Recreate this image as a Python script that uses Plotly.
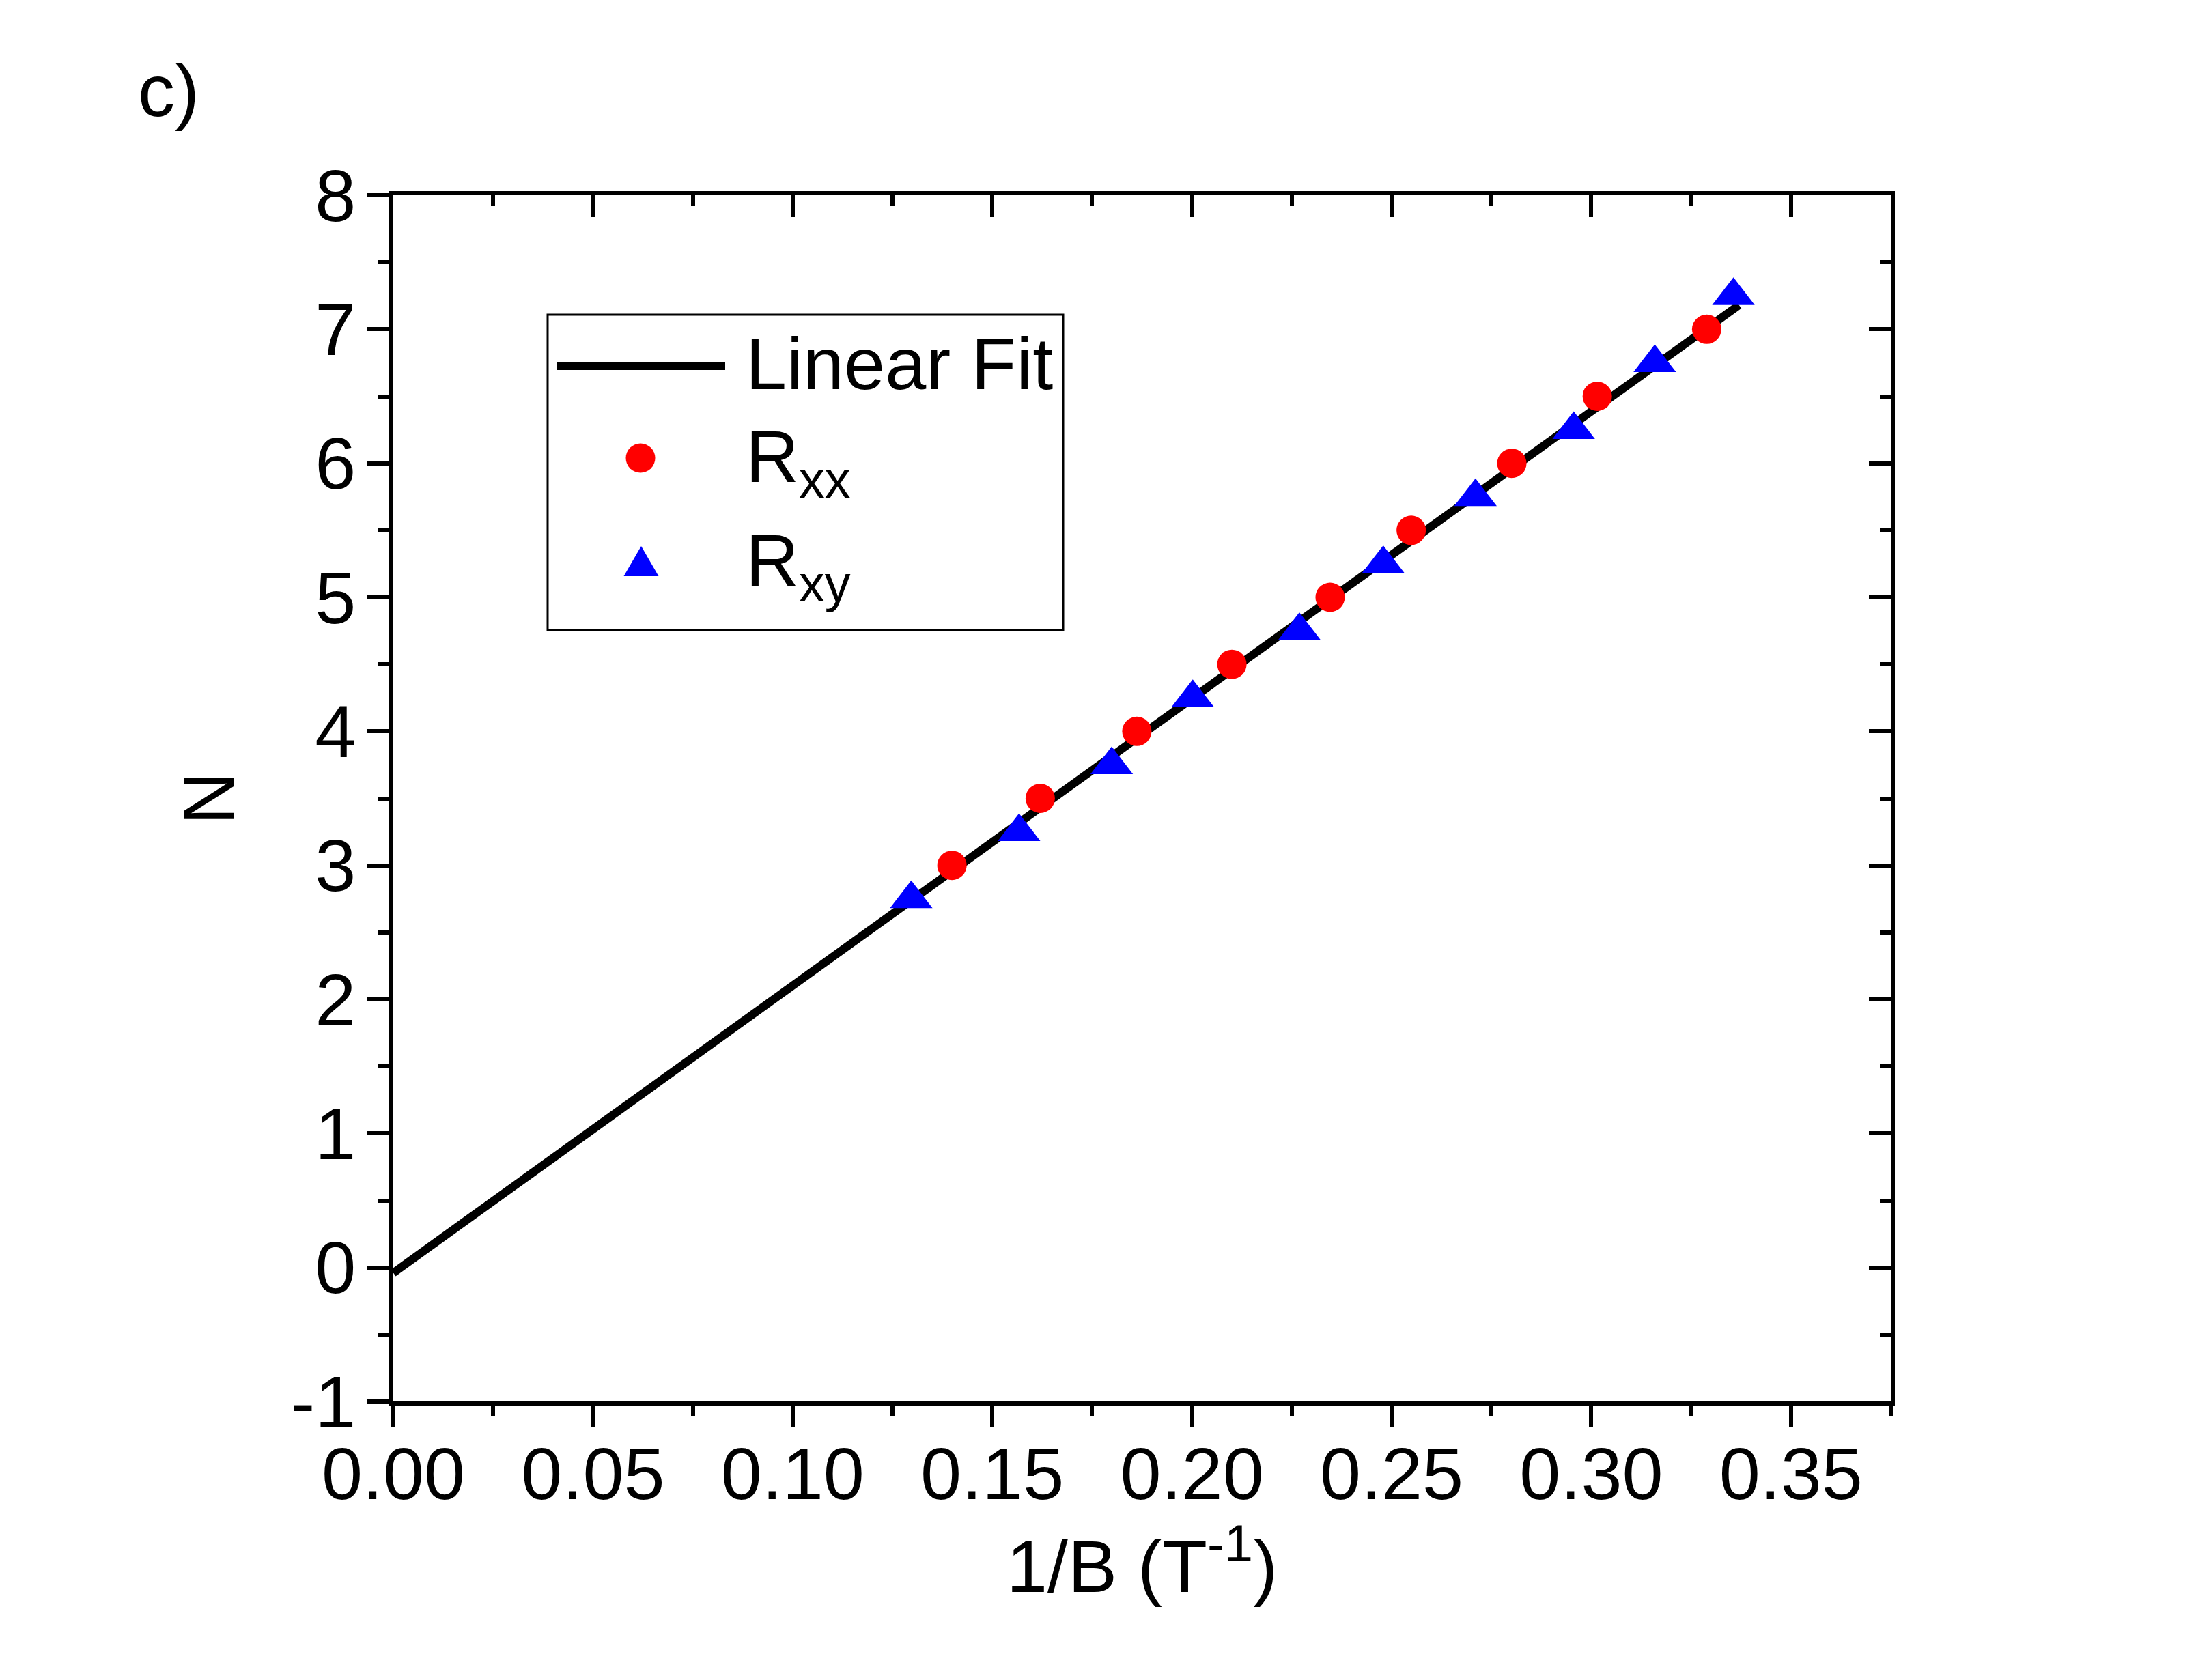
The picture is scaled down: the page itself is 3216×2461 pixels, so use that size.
import plotly.graph_objects as go

# ---------------- data ----------------
fit_x = [0.0, 0.337]
fit_n = [-0.04, 7.18]

rxx_x = [0.1399, 0.1620, 0.1862, 0.2100, 0.2346, 0.2549, 0.2801, 0.3015, 0.3289]
rxx_n = [3.0, 3.5, 4.0, 4.5, 5.0, 5.5, 6.0, 6.5, 7.0]

rxy_x = [0.1297, 0.1567, 0.1799, 0.2002, 0.2269, 0.2479, 0.2710, 0.2956, 0.3159, 0.3356]
rxy_n = [2.75, 3.25, 3.75, 4.25, 4.75, 5.25, 5.75, 6.25, 6.75, 7.25]

x_range = [0.0, 0.375]
y_range = [-1.0, 8.0]
x_ticks = [0.00, 0.05, 0.10, 0.15, 0.20, 0.25, 0.30, 0.35]
y_ticks = [-1, 0, 1, 2, 3, 4, 5, 6, 7, 8]

legend_names = ["Linear Fit", "R<sub>xx</sub>", "R<sub>xy</sub>"]
panel_label = "c)"
x_title = "1/B (T<sup>-1</sup>)"
y_title = "N"

# ---------------- layout geometry ----------------
W, H = 3216, 2461
L, R, T, B = 576, 447, 286, 408
PW, PH = W - L - R, H - T - B
FONT = "Liberation Sans, Arial, sans-serif"
FS = 108


def xp(px):
    return (px - L) / PW


def yp(py):
    return (H - B - py) / PH


fig = go.Figure()
fig.add_trace(go.Scatter(x=fit_x, y=fit_n, mode="lines", name=legend_names[0],
                         line=dict(color="black", width=12), showlegend=False))
fig.add_trace(go.Scatter(x=rxx_x, y=rxx_n, mode="markers", name=legend_names[1],
                         marker=dict(symbol="circle", size=43, color="#FF0000",
                                     line=dict(width=0)), showlegend=False))
fig.add_trace(go.Scatter(x=rxy_x, y=rxy_n, mode="markers", name=legend_names[2],
                         marker=dict(symbol="triangle-up", size=54, color="#0000FF",
                                     line=dict(width=0)), showlegend=False))
# invisible copy on the mirror axes so that the top / right frame is drawn
fig.add_trace(go.Scatter(x=fit_x, y=fit_n, xaxis="x2", yaxis="y2", mode="lines",
                         line=dict(width=0), opacity=0, hoverinfo="skip",
                         showlegend=False))

axis_common = dict(showgrid=False, zeroline=False, showline=True, linecolor="black",
                   linewidth=6, tickcolor="black", tickwidth=6, ticklen=32,
                   tickfont=dict(family=FONT, size=FS, color="black"))

fig.update_layout(
    width=W, height=H,
    margin=dict(l=L, r=R, t=T, b=B, autoexpand=False),
    paper_bgcolor="white", plot_bgcolor="white",
    showlegend=False,
    font=dict(family=FONT, size=FS, color="black"),
    xaxis=dict(range=x_range, tickmode="array", tickvals=x_ticks,
               ticktext=[f"{v:.2f}" for v in x_ticks], ticks="outside",
               ticklabelstandoff=-25,
               minor=dict(dtick=0.025, tick0=0, ticks="outside", ticklen=16,
                          tickwidth=6, tickcolor="black"),
               title=dict(text=x_title, font=dict(family=FONT, size=FS), standoff=30),
               automargin=False, **axis_common),
    yaxis=dict(range=y_range, tickmode="array", tickvals=y_ticks,
               ticktext=[str(v) for v in y_ticks], ticks="outside",
               ticklabelstandoff=-5,
               minor=dict(dtick=0.5, tick0=0, ticks="outside", ticklen=16,
                          tickwidth=6, tickcolor="black"),
               title=dict(text=y_title, font=dict(family=FONT, size=FS), standoff=48),
               automargin=False, **axis_common),
    xaxis2=dict(range=x_range, overlaying="x", side="top", anchor="y",
                tickmode="array", tickvals=x_ticks, showticklabels=False, ticks="inside",
                minor=dict(dtick=0.025, tick0=0, ticks="inside", ticklen=16,
                           tickwidth=6, tickcolor="black"),
                **axis_common),
    yaxis2=dict(range=y_range, overlaying="y", side="right", anchor="x",
                tickmode="array", tickvals=y_ticks, showticklabels=False, ticks="inside",
                minor=dict(dtick=0.5, tick0=0, ticks="inside", ticklen=16,
                           tickwidth=6, tickcolor="black"),
                **axis_common),
)

# ---------------- hand-built legend (box, samples, text) ----------------
shapes = [
    dict(type="rect", xref="paper", yref="paper", x0=xp(802), x1=xp(1557),
         y0=yp(923), y1=yp(461), line=dict(color="black", width=3),
         fillcolor="white", layer="above"),
    dict(type="line", xref="paper", yref="paper", x0=xp(816), x1=xp(1062),
         y0=yp(536), y1=yp(536), line=dict(color="black", width=12), layer="above"),
    dict(type="circle", xref="paper", yref="paper", xsizemode="pixel", ysizemode="pixel",
         xanchor=xp(938), yanchor=yp(671), x0=-21.5, x1=21.5, y0=-21.5, y1=21.5,
         fillcolor="#FF0000", line=dict(width=0), layer="above"),
    dict(type="path", xref="paper", yref="paper", xsizemode="pixel", ysizemode="pixel",
         xanchor=xp(939), yanchor=yp(822),
         path="M -25.5 -22 L 25.5 -22 L 0 22 Z",
         fillcolor="#0000FF", line=dict(width=0), layer="above"),
]
fig.update_layout(shapes=shapes)

annotations = [
    dict(text=legend_names[0], x=xp(1090), y=yp(532), xanchor="left", yanchor="middle"),
    dict(text=legend_names[1], x=xp(1090), y=yp(676), xanchor="left", yanchor="middle"),
    dict(text=legend_names[2], x=xp(1090), y=yp(828), xanchor="left", yanchor="middle"),
    dict(text=panel_label, x=xp(200), y=yp(132), xanchor="left", yanchor="middle"),
]
for a in annotations:
    a.update(xref="paper", yref="paper", showarrow=False,
             font=dict(family=FONT, size=FS, color="black"))
fig.update_layout(annotations=annotations)

fig.write_html("out.html")
